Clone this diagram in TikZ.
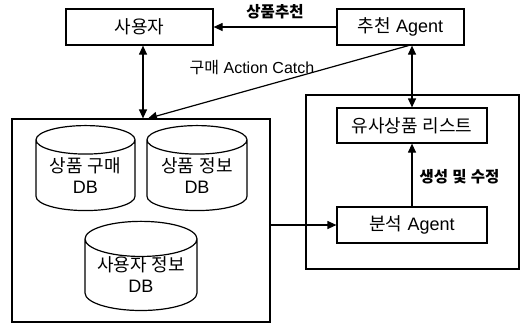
\documentclass[tikz,border=0pt]{standalone}
\usepackage{fontspec}
\setmainfont{Liberation Sans}
\newfontfamily\krfont{Noto Sans CJK KR}
\newcommand{\kr}[1]{{\krfont #1}}
\usetikzlibrary{shapes.geometric, arrows.meta, positioning, calc}

\begin{document}
\begin{tikzpicture}[
  x=1pt, y=-1pt,
  font=\fontsize{18}{21}\selectfont,
  box/.style={rectangle, draw, line width=1.2pt, inner sep=0pt},
  frame/.style={rectangle, draw, line width=1.2pt, inner sep=0pt},
  dbcyl/.style={cylinder, shape border rotate=90, draw, line width=1.2pt,
                aspect=0.4, align=center, inner sep=0pt},
  arrow/.style={-{Triangle[length=9pt,width=8pt]}, line width=1.2pt},
  dblarrow/.style={{Triangle[length=9pt,width=8pt]}-{Triangle[length=9pt,width=8pt]}, line width=1.2pt},
  lbl/.style={font=\fontsize{16}{18}\selectfont},
  boldlbl/.style={font=\fontsize{15.5}{18}\selectfont\bfseries}
]
\useasboundingbox (0,0) rectangle (521,333);

% Top row
\node[box, minimum width=147pt, minimum height=36pt] (user) at (139.5,27) {\kr{사용자}};
\node[box, minimum width=127pt, minimum height=36pt] (rec)  at (400.5,27) {\kr{추천} Agent};

% Store (left) and analysis (right) frames
\node[frame, minimum width=258pt, minimum height=203pt] (store) at (141,220.5) {};
\node[frame, minimum width=213pt, minimum height=174pt] (anal) at (412.5,182) {};

% Databases
\node[dbcyl, minimum width=99pt, minimum height=85pt] (buydb)  at (85.5,175.5) {\kr{상품} \kr{구매}\\DB};
\node[dbcyl, minimum width=100pt, minimum height=85pt] (infodb) at (197,175.5) {\kr{상품} \kr{정보}\\DB};
\node[dbcyl, minimum width=112pt, minimum height=76pt] (userdb) at (141,275) {\kr{사용자} \kr{정보}\\DB};

% Right side boxes
\node[box, minimum width=150pt, minimum height=35pt] (list)  at (412,125.5) {\kr{유사상품} \kr{리스트}};
\node[box, minimum width=150pt, minimum height=36pt] (agent) at (412,225) {\kr{분석} Agent};

% Arrows
\draw[arrow] (rec.west) -- (user.east);
\node[boldlbl] (recl) at (275,12) {\kr{상품추천}};
\draw[dblarrow] ([xshift=3.5pt]user.south) -- ([xshift=3.5pt]user.south |- store.north);
\draw[arrow] ([xshift=8pt]rec.south) -- ([xshift=8.5pt]user.south |- store.north);
\node[lbl] (buyl) at (252,68) {\kr{구매} Action Catch};
\draw[dblarrow] (list.north |- rec.south) -- (list.north);
\draw[arrow] (agent.north) -- (list.south);
\node[boldlbl, anchor=west] (genl) at (416,177) {\kr{생성} \kr{및} \kr{수정}};
\draw[arrow] (store.east |- agent.west) -- (agent.west);

\end{tikzpicture}
\end{document}
